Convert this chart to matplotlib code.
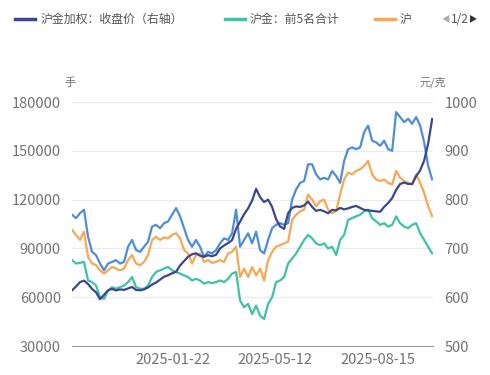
import numpy as np
import matplotlib
matplotlib.use('Agg')
import matplotlib.pyplot as plt
from matplotlib.lines import Line2D

plt.rcParams['font.family'] = ['Noto Sans CJK SC', 'DejaVu Sans']

# 沪金加权：收盘价 (右轴, 元/克)
close_px = [614, 622, 631, 634, 627, 617, 610, 596, 605, 614, 617, 614, 616, 615, 618, 621,
            615, 614, 616, 620, 626, 630, 636, 642, 645, 649, 652, 665, 674, 683, 688, 690,
            685, 683, 686, 684, 687, 700, 706, 711, 717, 740, 755, 770, 782, 798, 822, 805,
            795, 800, 785, 760, 745, 740, 772, 783, 786, 785, 788, 796, 785, 777, 779, 776,
            772, 779, 778, 783, 780, 782, 785, 787, 783, 779, 778, 777, 776, 775, 785, 793,
            803, 820, 832, 835, 832, 832, 848, 860, 880, 915, 965]

# 沪金：前5名合计 (手)
top5 = [82800, 80700, 81100, 81700, 70300, 69300, 67200, 60000, 59000, 64100, 66200, 65200,
        66200, 67200, 69300, 72400, 66200, 65200, 65200, 67200, 72400, 75500, 76500, 77600,
        78600, 76500, 75500, 74500, 73400, 72400, 70300, 71300, 70300, 68300, 69300, 68700,
        69300, 70300, 69300, 71300, 74500, 75500, 57900, 53800, 55900, 49700, 54800, 48600,
        46600, 55900, 60000, 69300, 70300, 72400, 80700, 83800, 86900, 91000, 95200, 98300,
        96200, 93100, 92000, 93100, 90000, 91000, 85900, 95200, 98300, 107600, 108600, 109700,
        110700, 112800, 113800, 108600, 106600, 104500, 105500, 103400, 104500, 109700, 105500,
        103400, 102400, 104500, 105500, 99300, 95200, 91000, 86900]

# 沪... (橙)
orange_s = [101400, 98300, 95200, 100300, 84800, 80700, 79700, 76500, 74500, 76500, 78600,
            77600, 76500, 77600, 82800, 85900, 80700, 79700, 81700, 85900, 95200, 97200, 95200,
            96800, 96200, 98300, 99300, 96200, 89000, 86900, 80700, 85900, 86900, 81700, 82800,
            81100, 81700, 82800, 81700, 86900, 87900, 91000, 72400, 77600, 72400, 78600, 73400,
            77600, 70300, 82800, 87900, 91000, 92000, 93100, 94100, 107600, 110700, 112800,
            113800, 123100, 120000, 115900, 119000, 120000, 113800, 111700, 112800, 123100,
            132400, 136600, 135500, 137600, 138600, 140700, 143800, 135500, 132400, 131400,
            132400, 130300, 129300, 137600, 133400, 131400, 130300, 129300, 135500, 130300,
            124100, 115900, 109700]

# 第四条 (蓝)
blue_s = [110700, 108600, 111700, 113800, 97200, 87900, 85900, 80700, 76500, 80700, 81700,
          82800, 80700, 81700, 91000, 95200, 89000, 87900, 91000, 94100, 103400, 104500, 102400,
          105500, 106600, 110700, 114800, 109700, 102400, 95200, 91000, 95200, 91000, 84800,
          87900, 86900, 89000, 93100, 96200, 95200, 99300, 113800, 91000, 95200, 99300, 93100,
          100300, 89000, 86900, 95200, 102400, 104500, 105500, 104500, 105500, 120000, 126200,
          130300, 131400, 141700, 141700, 135500, 132400, 133400, 132400, 137600, 134500,
          130300, 143800, 151000, 152100, 151000, 152100, 161400, 165500, 156200, 155200,
          153100, 156200, 151000, 150000, 173800, 170700, 167600, 169700, 166600, 170700,
          165500, 155200, 140700, 132400]

tick_pos = [25.25, 50.75, 76.5]
tick_labels = ['2025-01-22', '2025-05-12', '2025-08-15']

legend_labels = ['沪金加权：收盘价（右轴）', '沪金：前5名合计', '沪']
legend_x = [0.031, 0.459, 0.765]   # left edge of each legend swatch

c_navy = '#3b4690'
c_teal = '#3ec2a6'
c_orange = '#f5a855'
c_blue = '#4e8ed8'
c_text = '#737373'

x = np.arange(len(top5))

fig = plt.figure(figsize=(4.9, 3.75), dpi=100)
ax = fig.add_axes([0.147, 0.0773, 0.737, 0.6507])
ax2 = ax.twinx()

ax.plot(x, blue_s, color=c_blue, lw=1.6)
ax.plot(x, orange_s, color=c_orange, lw=1.6)
ax.plot(x, top5, color=c_teal, lw=1.6)
ax2.plot(x, close_px, color=c_navy, lw=1.6)

ax.set_xlim(0, 90.25)
ax.set_ylim(30000, 180000)
ax2.set_ylim(500, 1000)
ax.set_yticks(np.arange(30000, 180001, 30000))
ax2.set_yticks(np.arange(500, 1001, 100))
ax.set_xticks(tick_pos)
ax.set_xticklabels(tick_labels)

ax.grid(axis='y', color='#ebebeb', lw=1)
ax.set_axisbelow(True)
for a in (ax, ax2):
    for s in a.spines.values():
        s.set_visible(False)
    a.tick_params(length=0, labelsize=10.5, colors=c_text)
ax.spines['bottom'].set_visible(True)
ax.spines['bottom'].set_color('#9aa0a8')
ax.tick_params(axis='x', pad=5)
ax.tick_params(axis='y', pad=8)
ax2.tick_params(axis='y', pad=8)

fig.text(0.143, 0.771, '手', fontsize=8, color=c_text, ha='center')
fig.text(0.884, 0.771, '元/克', fontsize=8, color=c_text, ha='center')

# legend (page 1 of 2)
ly = 0.949
for lx, lab, col in zip(legend_x, legend_labels, [c_navy, c_teal, c_orange]):
    fig.add_artist(Line2D([lx, lx + 0.041], [ly, ly], color=col, lw=2.5,
                          transform=fig.transFigure))
    fig.text(lx + 0.051, ly, lab, fontsize=8.6, color='#555555', va='center')
fig.text(0.91, ly, '◀', fontsize=6, color='#aaaaaa', ha='center', va='center')
fig.text(0.938, ly, '1/2', fontsize=8.5, color='#555555', ha='center', va='center')
fig.text(0.965, ly, '▶', fontsize=6, color='#333333', ha='center', va='center')

plt.savefig('out.png', dpi=100)
